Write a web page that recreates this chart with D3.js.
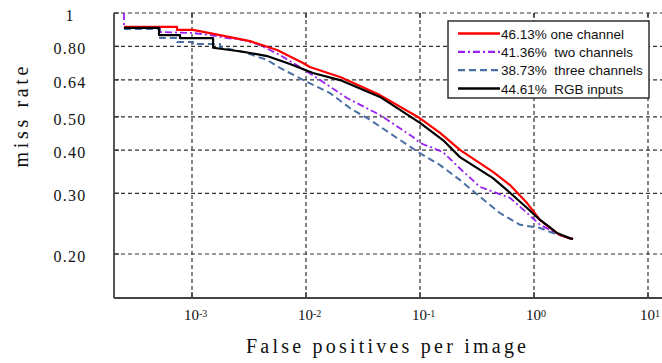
<!DOCTYPE html>
<html><head><meta charset="utf-8">
<script src="https://cdn.jsdelivr.net/npm/d3@7"></script>
<style>
html,body{margin:0;padding:0;background:#fff;}
svg{display:block;}
</style></head>
<body>
<svg id="chart" width="662" height="363"></svg>
<script>
// ---- data ----
const fppiTicks = [1e-3, 1e-2, 1e-1, 1, 10];
const fppiTickExps = ["-3", "-2", "-1", "0", "1"];
const mrTicks = [1, 0.8, 0.64, 0.5, 0.4, 0.3, 0.2];
const mrTickLabels = ["1", "0.80", "0.64", "0.50", "0.40", "0.30", "0.20"];
const seriesLabels = ["46.13% one channel", "41.36%  two channels", "38.73%  three channels", "44.61%  RGB inputs"];

const oneChannel = [
  [2.53e-4,0.911],[7.38e-4,0.911],[7.38e-4,0.893],[1.02e-3,0.893],[1.76e-3,0.863],
  [3.23e-3,0.829],[5.57e-3,0.781],[9.41e-3,0.716],[0.0108,0.697],[0.0199,0.652],
  [0.0446,0.578],[0.100,0.495],[0.150,0.449],[0.224,0.401],[0.437,0.346],
  [0.616,0.317],[0.869,0.281],[1.13,0.251],[1.38,0.238],[1.69,0.227],
  [2.07,0.222],[2.2,0.221]
];
const twoChannels = [
  [2.53e-4,1.0],[2.53e-4,0.905],[5.24e-4,0.905],[5.24e-4,0.881],[1.02e-3,0.875],
  [1.44e-3,0.863],[2.03e-3,0.846],[2.80e-3,0.835],[3.72e-3,0.813],[4.83e-3,0.781],
  [5.91e-3,0.755],[8.86e-3,0.697],[0.0133,0.639],[0.0229,0.567],[0.0446,0.506],
  [0.0869,0.437],[0.100,0.420],[0.159,0.395],[0.224,0.354],[0.336,0.313],
  [0.616,0.291],[0.869,0.263],[1.13,0.243],[1.38,0.235],[1.69,0.227],[2.2,0.221]
];
const threeChannels = [
  [2.53e-4,0.899],[5.24e-4,0.899],[5.24e-4,0.846],[7.38e-4,0.846],[7.38e-4,0.824],
  [1.02e-3,0.824],[1.02e-3,0.813],[1.76e-3,0.813],[1.76e-3,0.797],[2.80e-3,0.771],
  [4.55e-3,0.731],[5.91e-3,0.693],[0.0102,0.631],[0.0162,0.586],[0.0243,0.530],
  [0.0364,0.490],[0.0628,0.434],[0.100,0.392],[0.150,0.362],[0.224,0.328],
  [0.336,0.293],[0.503,0.263],[0.754,0.243],[1.13,0.238],[1.47,0.230],[2.2,0.221]
];
const rgbInputs = [
  [2.53e-4,0.906],[5.14e-4,0.906],[5.14e-4,0.863],[7.85e-4,0.863],[7.85e-4,0.845],
  [1.53e-3,0.845],[1.53e-3,0.793],[2.80e-3,0.772],[4.55e-3,0.750],[7.24e-3,0.711],
  [0.0115,0.670],[0.0199,0.639],[0.0446,0.571],[0.100,0.480],[0.159,0.428],
  [0.224,0.382],[0.437,0.332],[0.616,0.301],[0.869,0.272],[1.13,0.251],
  [1.38,0.239],[1.59,0.230],[2.07,0.222],[2.2,0.221]
];

// ---- layout ----
const svg = d3.select("#chart");
const pLeft = 114, pRight = 662, pTop = 13, pBottom = 298;
const x = d3.scaleLog().domain([1e-3, 10]).range([192, 648]);
const y = d3.scaleLog().domain([1, 0.2]).range([13, 254]);
const serifFont = "'Liberation Serif', 'Times New Roman', serif";

const series = [
  {data: threeChannels, color: "#4a6fa5", width: 2, dash: "7,4"},
  {data: twoChannels, color: "#9a1ff2", width: 1.8, dash: "7,3,2,3"},
  {data: oneChannel, color: "#ff0000", width: 2.2, dash: null},
  {data: rgbInputs, color: "#000000", width: 2.2, dash: null}
];
const legendOrder = [2, 1, 0, 3];

svg.append("defs").append("clipPath").attr("id","plotclip")
  .append("rect").attr("x", pLeft).attr("y", pTop - 2).attr("width", pRight - pLeft).attr("height", pBottom - pTop + 2);

// gridlines
const grid = svg.append("g").attr("stroke", "#333").attr("stroke-width", 1.2).attr("stroke-dasharray", "4,3");
grid.selectAll("line.h").data(mrTicks).join("line").attr("class","h")
  .attr("x1", pLeft).attr("x2", pRight).attr("y1", d => y(d)).attr("y2", d => y(d));
grid.selectAll("line.v").data(fppiTicks).join("line").attr("class","v")
  .attr("x1", d => x(d)).attr("x2", d => x(d)).attr("y1", pTop).attr("y2", pBottom);

// solid ticks
const ticks = svg.append("g").attr("stroke", "#333").attr("stroke-width", 1.3);
ticks.selectAll("line.lt").data(mrTicks).join("line").attr("class","lt")
  .attr("x1", pLeft).attr("x2", pLeft + 5).attr("y1", d => y(d)).attr("y2", d => y(d));
ticks.selectAll("line.bt").data(fppiTicks).join("line").attr("class","bt")
  .attr("x1", d => x(d)).attr("x2", d => x(d)).attr("y1", pBottom).attr("y2", pBottom - 6);
ticks.selectAll("line.tt").data(fppiTicks).join("line").attr("class","tt")
  .attr("x1", d => x(d)).attr("x2", d => x(d)).attr("y1", pTop).attr("y2", pTop + 5);

// curves
const line = d3.line().x(d => x(d[0])).y(d => y(d[1]));
const curves = svg.append("g").attr("clip-path", "url(#plotclip)");
curves.selectAll("path").data(series).join("path")
  .attr("d", d => line(d.data))
  .attr("fill", "none")
  .attr("stroke", d => d.color)
  .attr("stroke-width", d => d.width)
  .attr("stroke-dasharray", d => d.dash)
  .attr("stroke-linejoin", "round");

// axes frame
svg.append("line").attr("x1", pLeft).attr("x2", pLeft).attr("y1", pTop).attr("y2", pBottom)
  .attr("stroke", "#444").attr("stroke-width", 1.8);
svg.append("line").attr("x1", pLeft).attr("x2", pRight).attr("y1", pBottom).attr("y2", pBottom)
  .attr("stroke", "#444").attr("stroke-width", 1.8);

// y tick labels
svg.append("g").selectAll("text").data(mrTicks).join("text")
  .attr("x", 70).attr("y", d => y(d) + 8)
  .attr("text-anchor", "middle")
  .attr("font-family", serifFont).attr("font-size", 16).attr("fill", "#111")
  .attr("letter-spacing", 1.2)
  .text((d, i) => mrTickLabels[i]);

// x tick labels
const xl = svg.append("g").selectAll("text").data(fppiTicks).join("text")
  .attr("x", d => x(d) - 8).attr("y", 320)
  .attr("font-family", serifFont).attr("font-size", 15).attr("fill", "#111");
xl.append("tspan").text("10");
xl.append("tspan").attr("font-size", 10).attr("dy", -3).text((d, i) => fppiTickExps[i]);

// axis titles
svg.append("text").attr("transform", "translate(28,117) rotate(-90)")
  .attr("text-anchor", "middle")
  .attr("font-family", serifFont).attr("font-size", 20).attr("fill", "#111")
  .attr("textLength", 101).attr("lengthAdjust", "spacing")
  .text("miss rate");
svg.append("text").attr("x", 386).attr("y", 353)
  .attr("text-anchor", "middle")
  .attr("font-family", serifFont).attr("font-size", 20).attr("fill", "#111")
  .attr("textLength", 280).attr("lengthAdjust", "spacing")
  .text("False positives per image");

// legend
const lg = svg.append("g");
lg.append("rect").attr("x", 448).attr("y", 21).attr("width", 201).attr("height", 77)
  .attr("fill", "#fff").attr("stroke", "#222").attr("stroke-width", 1.4);
const rowY = d3.scalePoint().domain(d3.range(4)).range([33.5, 88.5]);
const rows = lg.selectAll("g.row").data(legendOrder).join("g").attr("class","row")
  .attr("transform", (d, i) => `translate(0,${rowY(i)})`);
rows.append("line").attr("x1", 458).attr("x2", 500).attr("y1", 0).attr("y2", 0)
  .attr("stroke", d => series[d].color)
  .attr("stroke-width", d => series[d].width + 0.3)
  .attr("stroke-dasharray", d => series[d].dash);
rows.append("text").attr("x", 501).attr("y", 5)
  .attr("font-family", "'Liberation Sans', Arial, sans-serif").attr("font-size", 13.5).attr("fill", "#111")
  .style("white-space", "pre")
  .text((d, i) => seriesLabels[i]);
</script>
</body></html>
